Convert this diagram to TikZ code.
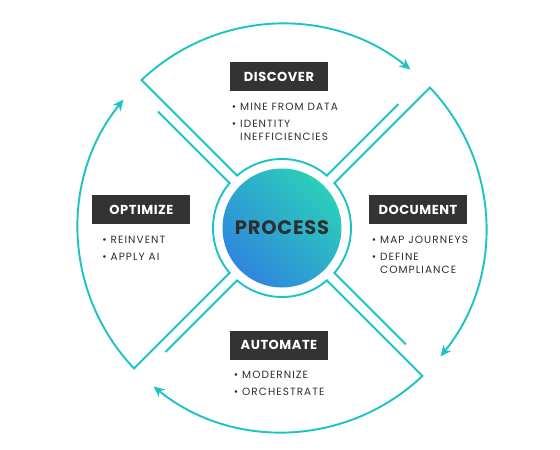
\documentclass[tikz,border=0pt]{standalone}
\usepackage{fontspec}
\setmainfont{Poppins}
\newfontfamily\spacedfont[LetterSpace=10]{Poppins}
\newfontfamily\titlefont[LetterSpace=4]{Poppins}
\usetikzlibrary{positioning,arrows.meta}

\definecolor{cycleteal}{HTML}{1DC2C4}
\definecolor{boxgray}{HTML}{333333}
\definecolor{textgray}{HTML}{2E2E2E}
\definecolor{procblue}{HTML}{2F86DE}
\definecolor{procteal}{HTML}{2BCFBA}

\newcommand{\itemfont}{\spacedfont\fontsize{10.5}{13.5}\selectfont}
\newcommand{\boxfont}{\titlefont\bfseries\fontsize{13}{15}\selectfont}
\newcommand{\processfont}{\titlefont\bfseries\fontsize{19.5}{22}\selectfont}

\begin{document}
\begin{tikzpicture}[x=1pt,y=1pt,
		quarter/.style={draw=cycleteal,line width=1.9pt,line join=miter,-{Stealth[length=11pt,width=10pt]}},
		stagebox/.style={fill=boxgray,text=white,font=\boxfont,minimum width=98pt,minimum height=29pt,inner sep=0pt},
		itemlist/.style={text=textgray,font=\itemfont,align=left,inner sep=0pt}]
	\useasboundingbox (-282,-222) rectangle (278,228);
	% one quarter for each stage, \a is the middle of the quarter
	\foreach \a in {90,0,-90,180}{
		\draw[quarter] ({\a-43.2}:170) -- ({\a-40.6}:69)
			arc[start angle={\a-40.6}, end angle={\a+40.6}, radius=69]
			-- ({\a+43.5}:204)
			arc[start angle={\a+43.5}, end angle={\a-39}, radius=204];
	}
	\shade[top color=procblue,bottom color=procteal,shading angle=135] (0,0) circle (59.5);
	\node[font=\processfont,text=textgray] (process) at (0,0) {PROCESS};
	% stage titles
	\node[stagebox] (discover) at (-3,151) {DISCOVER};
	\node[stagebox] (document) at (136,18) {DOCUMENT};
	\node[stagebox] (optimize) at (-140.5,18) {OPTIMIZE};
	\node[stagebox] (automate) at (-3,-117) {AUTOMATE};
	% bullet points
	\node[itemlist,below right=11pt and 2pt of discover.south west] (discoverlist)
		{\textbullet\ MINE FROM DATA\\[3.5pt]\textbullet\ IDENTITY\\\phantom{\textbullet\ }INEFFICIENCIES};
	\node[itemlist,below right=11pt and 3pt of document.south west] (documentlist)
		{\textbullet\ MAP JOURNEYS\\[3.5pt]\textbullet\ DEFINE\\\phantom{\textbullet\ }COMPLIANCE};
	\node[itemlist,below right=11pt and 10pt of optimize.south west] (optimizelist)
		{\textbullet\ REINVENT\\[3.5pt]\textbullet\ APPLY AI};
	\node[itemlist,below right=11pt and 4pt of automate.south west] (automatelist)
		{\textbullet\ MODERNIZE\\[3.5pt]\textbullet\ ORCHESTRATE};
\end{tikzpicture}
\end{document}
